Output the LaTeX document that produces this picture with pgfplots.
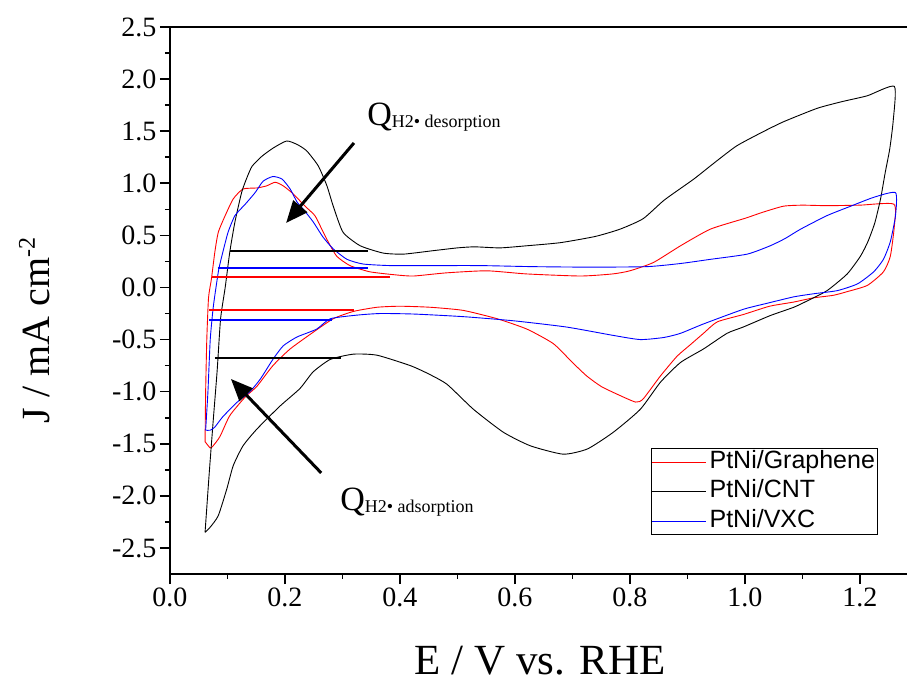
\documentclass[border=0pt]{standalone}
\usepackage{fontspec}
\setmainfont{Liberation Serif}
\newfontfamily\arial{Liberation Sans}
\usepackage{pgfplots}
\pgfplotsset{compat=1.18}
\usetikzlibrary{arrows.meta}
\begin{document}
\begin{tikzpicture}
\begin{axis}[
  scale only axis, width=737pt, height=547pt,
  xmin=0, xmax=1.282, ymin=-2.75, ymax=2.5,
  axis x line*=bottom, axis y line*=left,
  axis line style={-, line width=2pt},
  tick align=outside,
  major tick length=10pt, minor tick length=5pt,
  every tick/.style={black, line width=1.6pt},
  xtick={0,0.2,0.4,0.6,0.8,1.0,1.2}, minor x tick num=1,
  ytick={-2.5,-2,-1.5,-1,-0.5,0,0.5,1,1.5,2,2.5}, minor y tick num=1,
  /pgf/number format/assume math mode=true,
  xticklabel style={/pgf/number format/.cd, fixed, fixed zerofill, precision=1},
  yticklabel style={/pgf/number format/.cd, fixed, fixed zerofill, precision=1},
  ticklabel style={font=\fontsize{28}{28}\selectfont},
  xlabel={E / V vs. RHE},
  ylabel={J / mA cm\raisebox{15pt}{\fontsize{24}{24}\selectfont -2}},
  xlabel style={font=\fontsize{43}{43}\selectfont, at={([yshift=-101pt]axis description cs:0.502,0)}, anchor=base},
  ylabel style={font=\fontsize{40}{40}\selectfont, at={([xshift=-120pt]axis description cs:0,0.445)}, anchor=base},
  legend style={at={(axis cs:0.837,-1.54)}, anchor=north west, draw=black, line width=1pt,
    inner xsep=0pt, inner ysep=0pt, row sep=2.2pt,
    font=\arial\fontsize{25}{25}\selectfont,
    nodes={inner xsep=3pt, inner ysep=2pt, text height=18pt, text depth=5.3pt, anchor=west}},
  legend image code/.code={\draw[#1] (0pt,0pt) -- (54pt,0pt);},
  legend cell align=left,
]
% PtNi/Graphene
\addplot[red, line width=0.9pt, smooth, tension=0.35] coordinates {
(0.061,-1.48) (0.062,-1.0) (0.064,-0.5) (0.067,-0.1) (0.072,0.08) (0.078,0.34) (0.084,0.53) (0.096,0.69) (0.110,0.85) (0.127,0.945) (0.151,0.955) (0.168,0.975) (0.183,1.01) (0.197,0.975) (0.214,0.90) (0.235,0.78) (0.252,0.69) (0.264,0.56) (0.275,0.44) (0.29,0.30) (0.313,0.21) (0.348,0.15) (0.394,0.12) (0.424,0.11) (0.48,0.14) (0.551,0.16) (0.62,0.13) (0.714,0.11) (0.77,0.13) (0.80,0.16) (0.841,0.24) (0.888,0.40) (0.94,0.56) (1.001,0.665) (1.03,0.72) (1.067,0.78) (1.10,0.79) (1.143,0.785) (1.20,0.79) (1.259,0.80)
(1.260,0.59) (1.253,0.30) (1.241,0.15) (1.213,0.02) (1.178,-0.04) (1.154,-0.075) (1.119,-0.10) (1.085,-0.14) (1.043,-0.18) (0.997,-0.26) (0.952,-0.33) (0.928,-0.44) (0.905,-0.55) (0.882,-0.66) (0.853,-0.85) (0.823,-1.07) (0.81,-1.10) (0.78,-1.03) (0.75,-0.95) (0.725,-0.85) (0.70,-0.72) (0.667,-0.54) (0.621,-0.40) (0.569,-0.30) (0.51,-0.22) (0.453,-0.19) (0.40,-0.18) (0.36,-0.19) (0.319,-0.23) (0.284,-0.30) (0.249,-0.43) (0.209,-0.59) (0.179,-0.75) (0.151,-0.95) (0.131,-1.05) (0.104,-1.23) (0.087,-1.43) (0.075,-1.52) (0.070,-1.54) (0.061,-1.48)
};
\addlegendentry{PtNi/Graphene}
% PtNi/CNT
\addplot[black, line width=0.9pt, smooth, tension=0.35] coordinates {
(0.061,-2.35) (0.068,-1.80) (0.075,-1.29) (0.082,-0.80) (0.088,-0.30) (0.096,0.0) (0.104,0.34) (0.113,0.63) (0.125,0.92) (0.135,1.07) (0.143,1.165) (0.160,1.26) (0.18,1.34) (0.203,1.406) (0.222,1.37) (0.238,1.31) (0.258,1.166) (0.273,0.975) (0.284,0.78) (0.301,0.53) (0.331,0.40) (0.371,0.33) (0.406,0.32) (0.453,0.35) (0.50,0.38) (0.53,0.39) (0.574,0.38) (0.62,0.40) (0.679,0.43) (0.74,0.49) (0.783,0.56) (0.823,0.66) (0.86,0.84) (0.911,1.04) (0.95,1.21) (0.986,1.36) (1.03,1.49) (1.067,1.59) (1.126,1.72) (1.17,1.785) (1.213,1.84) (1.260,1.93)
(1.258,1.60) (1.252,1.33) (1.244,1.10) (1.236,0.85) (1.226,0.62) (1.214,0.44) (1.201,0.30) (1.178,0.13) (1.143,-0.03) (1.108,-0.13) (1.085,-0.19) (1.044,-0.27) (0.997,-0.38) (0.969,-0.44) (0.928,-0.59) (0.888,-0.72) (0.853,-0.91) (0.818,-1.17) (0.771,-1.39) (0.726,-1.55) (0.684,-1.60) (0.627,-1.52) (0.580,-1.39) (0.528,-1.17) (0.482,-0.93) (0.45,-0.83) (0.418,-0.75) (0.360,-0.65) (0.319,-0.64) (0.279,-0.69) (0.249,-0.81) (0.226,-0.97) (0.191,-1.14) (0.151,-1.36) (0.127,-1.52) (0.110,-1.71) (0.099,-1.93) (0.084,-2.19) (0.070,-2.30) (0.061,-2.35)
};
\addlegendentry{PtNi/CNT}
% PtNi/VXC
\addplot[blue, line width=0.9pt, smooth, tension=0.35] coordinates {
(0.062,-1.37) (0.066,-1.0) (0.070,-0.5) (0.075,-0.2) (0.080,0.0) (0.085,0.18) (0.092,0.34) (0.101,0.53) (0.113,0.69) (0.131,0.80) (0.148,0.91) (0.162,1.02) (0.179,1.065) (0.195,1.04) (0.209,0.945) (0.221,0.82) (0.232,0.75) (0.249,0.63) (0.266,0.485) (0.284,0.37) (0.308,0.27) (0.336,0.225) (0.383,0.21) (0.45,0.21) (0.54,0.21) (0.63,0.20) (0.731,0.195) (0.83,0.20) (0.888,0.23) (0.94,0.27) (1.004,0.32) (1.044,0.40) (1.07,0.47) (1.097,0.56) (1.143,0.69) (1.184,0.78) (1.224,0.865) (1.262,0.91)
(1.262,0.69) (1.253,0.44) (1.241,0.27) (1.224,0.15) (1.196,0.035) (1.161,-0.03) (1.12,-0.06) (1.085,-0.09) (1.04,-0.15) (0.997,-0.21) (0.928,-0.35) (0.888,-0.44) (0.859,-0.48) (0.818,-0.50) (0.771,-0.46) (0.69,-0.38) (0.598,-0.32) (0.51,-0.28) (0.424,-0.255) (0.366,-0.25) (0.326,-0.265) (0.279,-0.30) (0.255,-0.40) (0.221,-0.475) (0.197,-0.56) (0.179,-0.69) (0.157,-0.88) (0.139,-1.0) (0.117,-1.10) (0.092,-1.24) (0.078,-1.34) (0.07,-1.37) (0.062,-1.37)
};
\addlegendentry{PtNi/VXC}
% baselines
\addplot[black, line width=2.2pt, forget plot] coordinates {(0.104,0.35) (0.345,0.35)};
\addplot[blue, line width=2pt, forget plot] coordinates {(0.083,0.187) (0.345,0.187)};
\addplot[red, line width=2pt, forget plot] coordinates {(0.073,0.10) (0.383,0.10)};
\addplot[red, line width=2pt, forget plot] coordinates {(0.068,-0.216) (0.320,-0.216)};
\addplot[blue, line width=2pt, forget plot] coordinates {(0.068,-0.31) (0.282,-0.31)};
\addplot[black, line width=2.2pt, forget plot] coordinates {(0.078,-0.677) (0.298,-0.677)};
% top spine
\draw[line width=2pt] (rel axis cs:0,1) -- (rel axis cs:1,1);
% arrows
\draw[line width=3pt, -{Triangle[length=22pt,width=18pt]}] (axis cs:0.320,1.387) -- (axis cs:0.202,0.619);
\draw[line width=3pt, -{Triangle[length=22pt,width=18pt]}] (axis cs:0.263,-1.780) -- (axis cs:0.106,-0.878);
% labels
\node[anchor=base west, inner sep=0pt] at (axis cs:0.343,1.55) {\fontsize{34}{34}\selectfont Q\raisebox{-2pt}{\fontsize{18}{18}\selectfont H2\textbullet{} desorption}};
\node[anchor=base west, inner sep=0pt] at (axis cs:0.296,-2.145) {\fontsize{34}{34}\selectfont Q\raisebox{-2pt}{\fontsize{18}{18}\selectfont H2\textbullet{} adsorption}};
\coordinate (ll) at (rel axis cs:0,0);
\coordinate (ur) at (rel axis cs:1,1);
\end{axis}
\pgfresetboundingbox
\path ([shift={(-170pt,-110pt)}]ll) rectangle ([shift={(0pt,27pt)}]ur);
\end{tikzpicture}
\end{document}
